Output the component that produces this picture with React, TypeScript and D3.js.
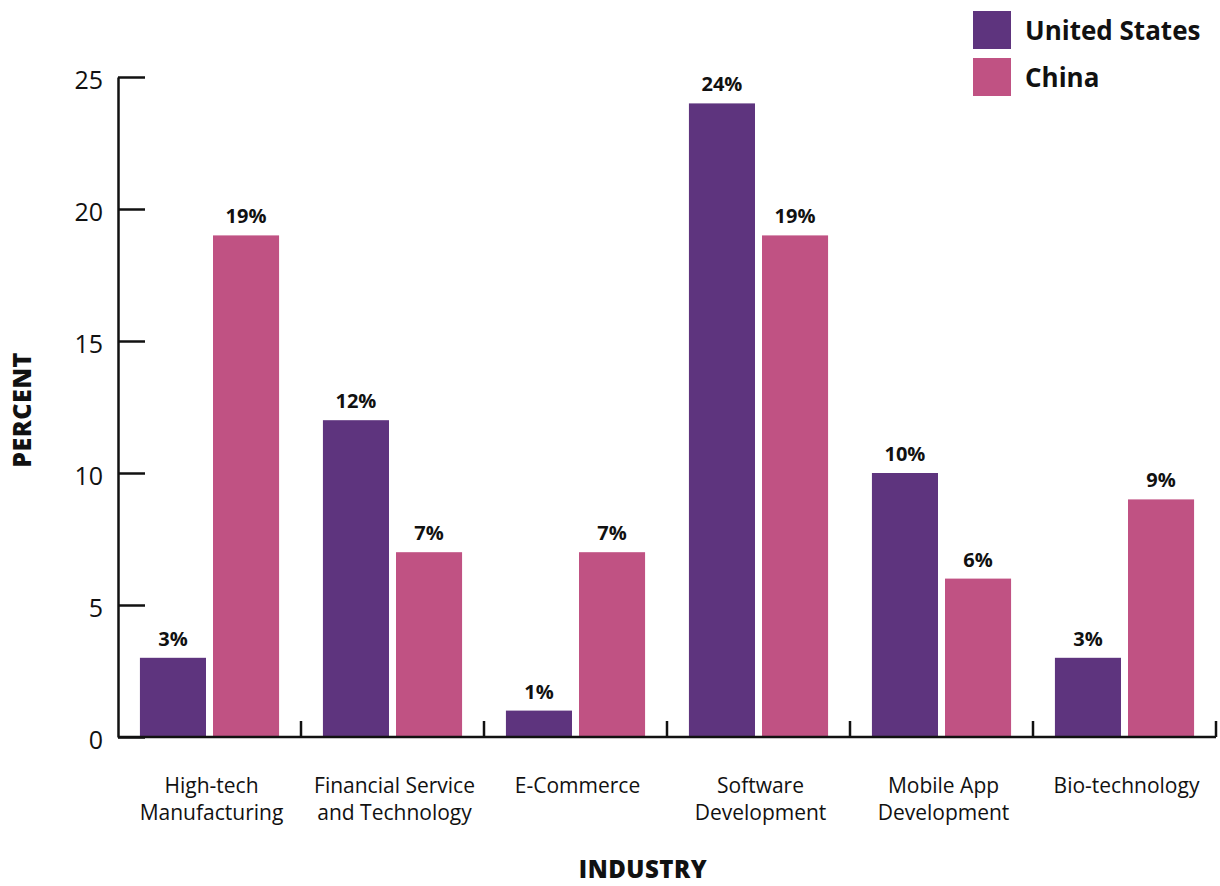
import { useEffect, useRef } from 'react'
import * as d3 from 'd3'

const categories = [
  ['High-tech', 'Manufacturing'],
  ['Financial Service', 'and Technology'],
  ['E-Commerce'],
  ['Software', 'Development'],
  ['Mobile App', 'Development'],
  ['Bio-technology'],
]
const seriesNames = ['United States', 'China']
const usValues = [3, 12, 1, 24, 10, 3]
const chinaValues = [19, 7, 7, 19, 6, 9]
const yTicks = [0, 5, 10, 15, 20, 25]

const colors = ['#5e347e', '#c05283']
const FONT = '"Open Sans", "Noto Sans", sans-serif'

export default function App() {
  const svgRef = useRef<SVGSVGElement>(null)

  useEffect(() => {
    if (!svgRef.current) return
    const svg = d3.select(svgRef.current)
    svg.selectAll('*').remove()

    const left = 118, right = 1216, top = 77, bottom = 737
    const idx = categories.map((_, i) => String(i))

    const x = d3.scaleBand().domain(idx).range([left, right]).padding(0)
    const xs = d3.scaleBand().domain(seriesNames).range([0, x.bandwidth()])
      .paddingInner(0.096).paddingOuter(0.3)
    const y = d3.scaleLinear().domain([0, 25]).range([bottom, top])

    const series = [usValues, chinaValues]

    // bars
    const g = svg.append('g')
    series.forEach((vals, si) => {
      g.selectAll(`.bar-${si}`)
        .data(vals)
        .enter().append('rect')
        .attr('x', (_d, i) => (x(String(i)) as number) + (xs(seriesNames[si]) as number))
        .attr('y', d => y(d))
        .attr('width', xs.bandwidth())
        .attr('height', d => y(0) - y(d))
        .attr('fill', colors[si])

      g.selectAll(`.lbl-${si}`)
        .data(vals)
        .enter().append('text')
        .attr('x', (_d, i) => (x(String(i)) as number) + (xs(seriesNames[si]) as number) + xs.bandwidth() / 2)
        .attr('y', d => y(d) - 12)
        .attr('text-anchor', 'middle')
        .style('font-family', FONT)
        .style('font-size', '20px')
        .style('font-weight', 'bold')
        .style('fill', '#111')
        .text(d => `${d}%`)
    })

    // y axis
    const yAxis = svg.append('g')
      .attr('transform', `translate(${left},0)`)
      .call(d3.axisLeft(y).tickValues(yTicks).tickSize(-27).tickPadding(15).tickSizeOuter(0))
    yAxis.select('.domain').attr('stroke', '#111').attr('stroke-width', 2.5)
    yAxis.selectAll('.tick line').attr('stroke', '#111').attr('stroke-width', 2.5)
    yAxis.selectAll('.tick text')
      .attr('dy', '0.45em')
      .style('font-family', FONT)
      .style('font-size', '25px')
      .style('fill', '#111')

    // x axis
    svg.append('line')
      .attr('x1', left).attr('x2', right)
      .attr('y1', bottom).attr('y2', bottom)
      .attr('stroke', '#111').attr('stroke-width', 2.5)
    const bounds = idx.map(d => (x(d) as number) + x.bandwidth())
    svg.selectAll('.xtick')
      .data(bounds)
      .enter().append('line')
      .attr('x1', d => d).attr('x2', d => d)
      .attr('y1', bottom).attr('y2', bottom - 16)
      .attr('stroke', '#111').attr('stroke-width', 2.5)

    categories.forEach((lines, i) => {
      lines.forEach((ln, li) => {
        svg.append('text')
          .attr('text-anchor', 'middle')
          .attr('x', (x(String(i)) as number) + x.bandwidth() / 2 + 2)
          .attr('y', 793 + li * 27)
          .style('font-family', FONT)
          .style('font-size', '21px')
          .style('fill', '#111')
          .text(ln)
      })
    })

    // axis titles
    svg.append('text')
      .attr('transform', `translate(31,410) rotate(-90)`)
      .attr('text-anchor', 'middle')
      .style('font-family', FONT)
      .style('font-size', '25px')
      .style('font-weight', 800)
      .style('letter-spacing', '0.5px')
      .style('fill', '#111')
      .text('PERCENT')

    svg.append('text')
      .attr('x', 643).attr('y', 878)
      .attr('text-anchor', 'middle')
      .style('font-family', FONT)
      .style('font-size', '24px')
      .style('font-weight', 800)
      .style('letter-spacing', '0.5px')
      .style('fill', '#111')
      .text('INDUSTRY')

    // legend
    const leg = svg.append('g').attr('transform', 'translate(973,11)')
    seriesNames.forEach((name, i) => {
      leg.append('rect')
        .attr('x', 0).attr('y', i * 47)
        .attr('width', 38).attr('height', 38)
        .attr('fill', colors[i])
      leg.append('text')
        .attr('x', 52).attr('y', i * 47 + 29)
        .style('font-family', FONT)
        .style('font-size', '26px')
        .style('font-weight', 'bold')
        .style('fill', '#111')
        .text(name)
    })
  }, [])

  return (
    <svg
      ref={svgRef}
      width={1220}
      height={886}
      style={{ position: 'absolute', left: 0, top: 0, background: '#fff' }}
    />
  )
}
